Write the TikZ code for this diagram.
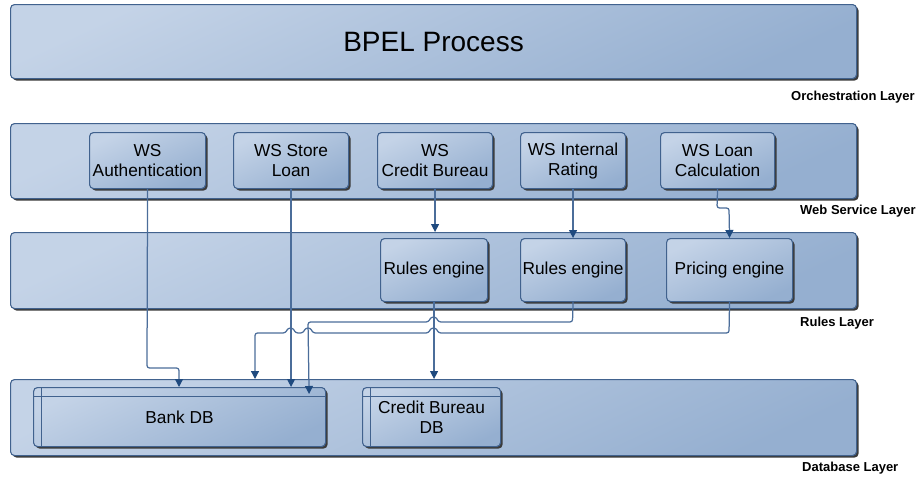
\documentclass[tikz,border=0pt]{standalone}
\usepackage{fontspec}
\setmainfont{Liberation Sans}
\usetikzlibrary{arrows.meta,shadows,calc}
\definecolor{fillL}{HTML}{C4D3E7}
\definecolor{fillD}{HTML}{95AFD0}
\definecolor{bord}{HTML}{41628E}
\definecolor{connc}{HTML}{4B6D9A}
\definecolor{tipc}{HTML}{1F4A7F}
\definecolor{shad}{HTML}{3A3A3A}
\tikzset{
  blk/.style={draw=bord, line width=1.1pt, rounded corners=4pt,
    top color=fillL, bottom color=fillD, shading angle=25,
    drop shadow={shadow xshift=2pt,shadow yshift=-2pt,opacity=1,fill=shad},
    inner sep=0pt, anchor=north west, align=center,
    font=\fontsize{17.3}{20}\selectfont},
  dbbox/.style={blk, path picture={
    \draw[bord, line width=0.9pt] ([xshift=8pt]path picture bounding box.north west) -- ([xshift=8pt]path picture bounding box.south west);
    \draw[bord, line width=0.9pt] ([yshift=-9pt]path picture bounding box.north west) -- ([yshift=-9pt]path picture bounding box.north east);}},
  lbl/.style={anchor=west, inner sep=0pt, font=\fontsize{13}{15}\selectfont\bfseries},
  conn/.style={draw=connc, line width=1.25pt, rounded corners=2.5pt,
    -{Triangle[width=8pt,length=8pt,color=tipc,fill=tipc]}},
}
\begin{document}
\begin{tikzpicture}[x=1pt,y=-1pt]
\useasboundingbox (0,0) rectangle (918,479);
% layers
\node[blk, minimum width=846pt, minimum height=74pt, font=\fontsize{28}{30}\selectfont] (bpel) at (10,4) {BPEL Process};
\node[blk, minimum width=846pt, minimum height=75pt] (wsl) at (10,123) {};
\node[blk, minimum width=846pt, minimum height=76pt] (rl) at (10,232) {};
\node[blk, minimum width=846pt, minimum height=76pt] (dbl) at (10,379) {};
% layer labels
\node[lbl] (lo) at (791,97) {Orchestration Layer};
\node[lbl] (lw) at (800,211) {Web Service Layer};
\node[lbl] (lr) at (800,323) {Rules Layer};
\node[lbl] (ld) at (802,468) {Database Layer};
% web services
\node[blk, minimum width=116pt, minimum height=56pt] (wsa) at (89,132) {WS\\Authentication};
\node[blk, minimum width=115pt, minimum height=56pt] (wss) at (233,132) {WS Store\\Loan};
\node[blk, minimum width=115pt, minimum height=56pt] (wsc) at (377,132) {WS\\Credit Bureau};
\node[blk, minimum width=105pt, minimum height=56pt] (wsi) at (520,132) {WS Internal\\Rating};
\node[blk, minimum width=114pt, minimum height=56pt] (wslc) at (660,132) {WS Loan\\Calculation};
% rules
\node[blk, minimum width=107pt, minimum height=63pt] (re1) at (380,238) {Rules engine};
\node[blk, minimum width=105pt, minimum height=63pt] (re2) at (520,238) {Rules engine};
\node[blk, minimum width=126pt, minimum height=63pt] (pe) at (666,238) {Pricing engine};
% databases
\node[dbbox, minimum width=292pt, minimum height=59pt] (bank) at (33,387) {Bank DB};
\node[dbbox, minimum width=138pt, minimum height=59pt] (cbdb) at (362,387) {Credit Bureau\\DB};
% connectors WS -> rules
\draw[conn] (wsc.south) -- (wsc.south |- rl.north);
\draw[conn] (wsi.south) -- (wsi.south |- re2.north);
\draw[conn] (wslc.south) -- (717,208) -- (729,208) -- (pe.north);
% connectors to databases
\draw[conn] (wsa.south) -- (147,368) -- (179,368) -- ($(bank.north west)+(146,0)$);
\draw[conn] (wss.south) -- (wss.south |- bank.north);
\draw[conn] (re1.south) -- (re1.south |- dbl.north);
\draw[conn] (re2.south) -- (572.5,322) -- (438.5,322) -- (436,317) -- (431,317) -- (428.5,322)
  -- (308,322) -- ($(bank.north east)+(-17,7)$);
\draw[conn] (pe.south) -- (729,333) -- (438.5,333) -- (436,328) -- (431,328) -- (428.5,333)
  -- (313,333) -- (310.5,328) -- (305.5,328) -- (303,333)
  -- (295.5,333) -- (293,328) -- (288,328) -- (285.5,333)
  -- (255,333) -- ($(dbl.north west)+(245,0)$);
\end{tikzpicture}
\end{document}
